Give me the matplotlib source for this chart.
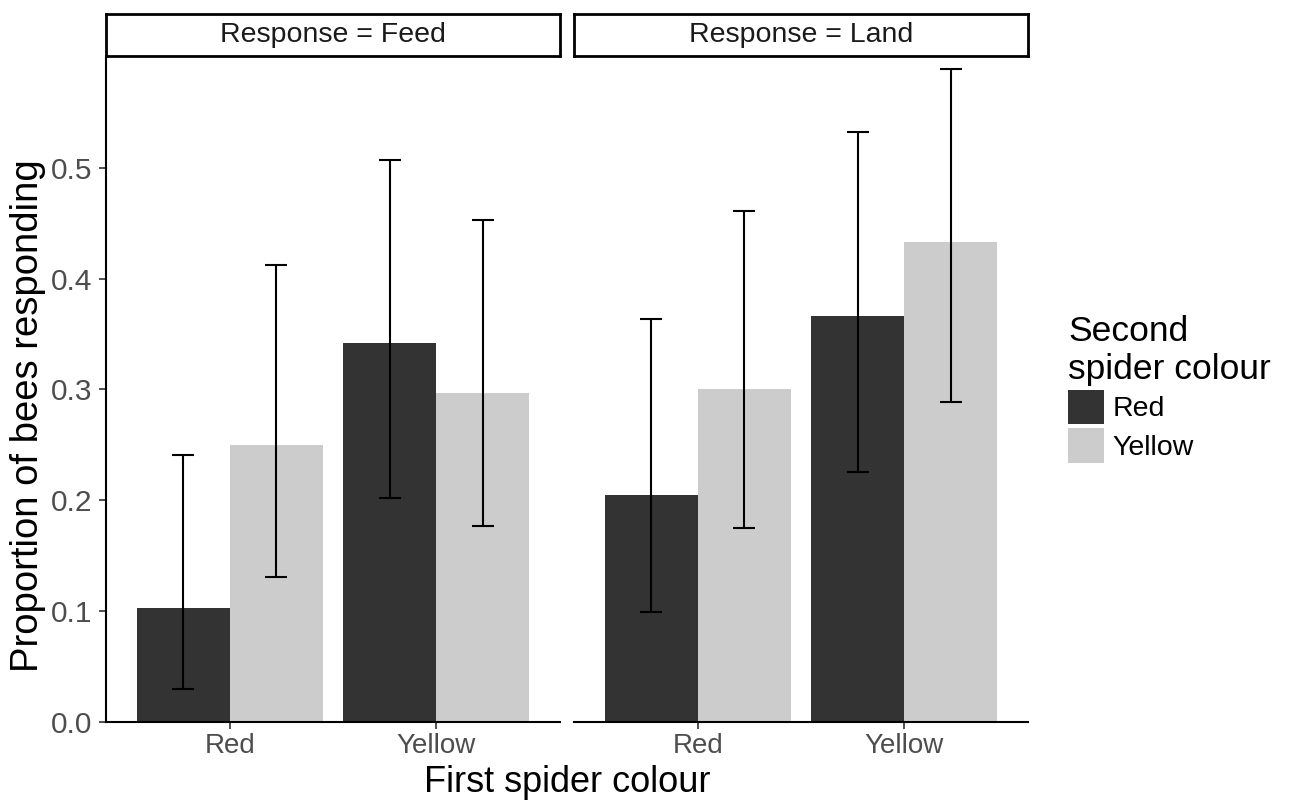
import numpy as np
import matplotlib.pyplot as plt
from matplotlib.patches import Patch

plt.rcParams['font.family'] = ['Liberation Sans', 'DejaVu Sans']

# data
responses = ["Feed", "Land"]
first_colours = ["Red", "Yellow"]
second_colours = ["Red", "Yellow"]
fill_cols = ["#333333", "#CCCCCC"]

# prop[response][second][first]
prop = {
    "Feed": {"Red": [0.103, 0.342], "Yellow": [0.250, 0.297]},
    "Land": {"Red": [0.205, 0.366], "Yellow": [0.300, 0.433]},
}
lower = {
    "Feed": {"Red": [0.030, 0.202], "Yellow": [0.131, 0.177]},
    "Land": {"Red": [0.099, 0.226], "Yellow": [0.175, 0.289]},
}
upper = {
    "Feed": {"Red": [0.241, 0.507], "Yellow": [0.412, 0.453]},
    "Land": {"Red": [0.364, 0.532], "Yellow": [0.461, 0.589]},
}

W, H = 1291, 810
fig = plt.figure(figsize=(W / 100, H / 100), dpi=100)

def fx(px):
    return px / W

def fy(py):
    return 1 - py / H

panel_x = [(106, 560), (574, 1028)]
top, bottom = 57, 722
strip_top = 14

x = np.arange(len(first_colours))
bw = 0.45
for i, resp in enumerate(responses):
    x0, x1 = panel_x[i]
    ax = fig.add_axes([fx(x0), fy(bottom), fx(x1 - x0), fy(top) - fy(bottom)])
    for j, sc in enumerate(second_colours):
        pos = x + (j - 0.5) * bw
        vals = np.array(prop[resp][sc])
        lo = vals - np.array(lower[resp][sc])
        hi = np.array(upper[resp][sc]) - vals
        ax.bar(pos, vals, width=bw, color=fill_cols[j], zorder=1)
        ax.errorbar(pos, vals, yerr=[lo, hi], fmt='none', ecolor='black',
                    elinewidth=1.5, capsize=8, capthick=1.5, zorder=3)
    ax.set_xlim(-0.6, 1.6)
    ax.set_ylim(0, 0.6)
    ax.set_xticks(x)
    ax.set_xticklabels(first_colours)
    for s in ['top', 'right']:
        ax.spines[s].set_visible(False)
    ax.spines['bottom'].set_linewidth(1.5)
    ax.spines['left'].set_linewidth(1.5)
    ax.tick_params(axis='x', colors='#333333', labelcolor='#4D4D4D',
                   labelsize=20, length=5, width=1.2, pad=3)
    if i == 0:
        ax.set_yticks([0.0, 0.1, 0.2, 0.3, 0.4, 0.5])
        ax.set_yticklabels(["0.0", "0.1", "0.2", "0.3", "0.4", "0.5"])
        ax.tick_params(axis='y', colors='#333333', labelcolor='#4D4D4D',
                       labelsize=21.5, length=5, width=1.2, pad=5)
    else:
        ax.spines['left'].set_visible(False)
        ax.set_yticks([])

    # facet strip
    sax = fig.add_axes([fx(x0), fy(top - 1), fx(x1 - x0), fy(strip_top) - fy(top - 1)])
    sax.set_xticks([])
    sax.set_yticks([])
    for s in sax.spines.values():
        s.set_linewidth(2)
    sax.text(0.5, 0.5, "Response = " + resp, ha='center', va='center',
             fontsize=20.5, color='#1A1A1A', transform=sax.transAxes)

fig.text(fx(567), fy(783), "First spider colour", ha='center', va='center', fontsize=26)
fig.text(fx(28), fy(416), "Proportion of bees responding", ha='center', va='center',
         rotation=90, fontsize=27.5)

handles = [Patch(facecolor=c, edgecolor='none') for c in fill_cols]
fig.legend(handles, second_colours, title="Second\nspider colour",
           loc='upper left', bbox_to_anchor=(fx(1068), fy(315)),
           frameon=False, fontsize=20.5, title_fontsize=25.5, alignment='left',
           handlelength=1.25, handleheight=1.5, handletextpad=0.3,
           labelspacing=0.12, borderpad=0, borderaxespad=0)

fig.savefig("out.png", dpi=100)
